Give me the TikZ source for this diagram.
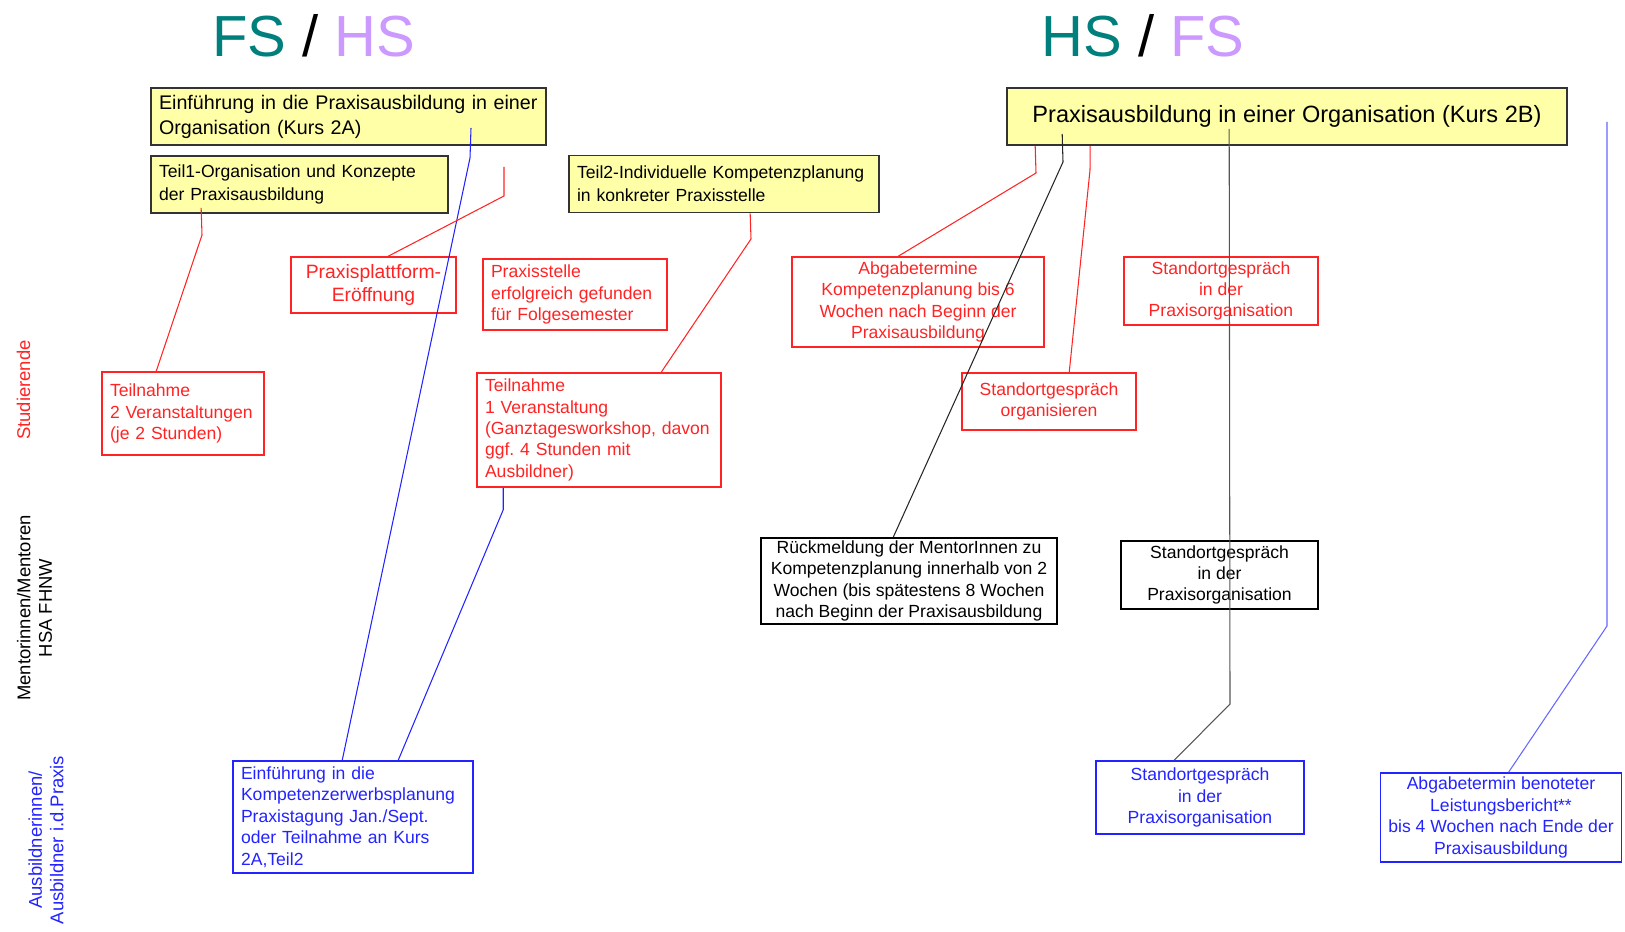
\documentclass[tikz,border=0pt]{standalone}
\usepackage{fontspec}
\setmainfont{Liberation Sans}
\usetikzlibrary{calc}
\definecolor{kursgelb}{RGB}{255,255,168}
\definecolor{studrot}{RGB}{255,35,35}
\definecolor{ausbblau}{RGB}{35,35,255}
\definecolor{fsgruen}{RGB}{0,128,124}
\definecolor{hslila}{RGB}{204,153,255}
\definecolor{linkgrau}{RGB}{85,85,85}
\frenchspacing

\begin{document}
\begin{tikzpicture}[x=0.02cm, y=-0.02cm,
  every node/.style={font=\fontsize{10}{12.2}\selectfont, inner xsep=0.16cm, inner ysep=0pt},
  kurs/.style={draw=black!80, fill=kursgelb, line width=1pt, align=left, minimum height=1.14cm, font=\fontsize{10}{13}\selectfont},
  studbox/.style={draw=studrot, text=studrot, line width=0.9pt},
  mentbox/.style={draw=black, line width=0.9pt},
  ausbbox/.style={draw=ausbblau, text=ausbblau, line width=0.9pt},
  studlink/.style={studrot, line width=0.6pt},
  mentlink/.style={black!85, line width=0.6pt},
  ausblink/.style={ausbblau, line width=0.6pt},
  graulink/.style={linkgrau, line width=0.6pt},
  seite/.style={rotate=90, align=center, font=\fontsize{10.5}{12.3}\selectfont}]
\useasboundingbox (0,0) rectangle (1625,932);

% Semester
\node[anchor=base, font=\fontsize{33}{33}\selectfont] (titelFS) at (314,57) {\textcolor{fsgruen}{FS} / \textcolor{hslila}{HS}};
\node[anchor=base, font=\fontsize{33}{33}\selectfont] (titelHS) at (1143,57) {\textcolor{fsgruen}{HS} / \textcolor{hslila}{FS}};

% Rollen
\node[seite, text=studrot] (studierende) at (23.5,390) {Studierende};
\node[seite] (mentoren) at (34.5,608) {Mentorinnen/Mentoren\\HSA FHNW};
\node[seite, text=ausbblau] (ausbildner) at (46,840) {Ausbildnerinnen/\\Ausbildner i.d.Praxis};

% Kurse
\node[kurs, text width=7.58cm, font=\fontsize{11.2}{14.2}\selectfont] (kursA) at (348.5,116.5) {Einführung in die Praxisausbildung in einer\\Organisation (Kurs 2A)};
\node[kurs, text width=5.62cm] (teil1) at (299.5,184.5) {Teil1-Organisation und Konzepte\\der Praxisausbildung};
\node[kurs, text width=5.88cm] (teil2) at (724,184) {Teil2-Individuelle Kompetenzplanung\\in konkreter Praxisstelle};
\node[kurs, align=center, minimum width=11.2cm, font=\fontsize{13.4}{16}\selectfont] (kursB) at (1287,116.5) {Praxisausbildung in einer Organisation (Kurs 2B)};

% Studierende
\node[studbox, align=center, minimum width=3.3cm, minimum height=1.12cm, font=\fontsize{11}{13}\selectfont] (plattform) at (373.5,285) {Praxisplattform-\\Eröffnung};
\node[studbox, align=left, text width=3.36cm, minimum height=1.42cm] (praxisstelle) at (575,294.5) {Praxisstelle\\erfolgreich gefunden\\für Folgesemester};
\node[studbox, align=left, text width=2.92cm, minimum height=1.66cm] (teiln2) at (183,413.5) {Teilnahme\\2 Veranstaltungen\\(je 2 Stunden)};
\node[studbox, align=left, text width=4.56cm, minimum height=2.28cm] (teiln1) at (599,430) {Teilnahme\\1 Veranstaltung\\(Ganztagesworkshop, davon\\ggf. 4 Stunden mit\\Ausbildner)};
\node[studbox, align=center, minimum width=5.04cm, minimum height=1.8cm] (abgabe) at (918,302) {Abgabetermine\\Kompetenzplanung bis 6\\Wochen nach Beginn der\\Praxisausbildung};
\node[studbox, align=center, minimum width=3.88cm, minimum height=1.36cm] (standRot) at (1221,291) {Standortgespräch\\in der\\Praxisorganisation};
\node[studbox, align=center, minimum width=3.48cm, minimum height=1.14cm] (standOrg) at (1049,401.5) {Standortgespräch\\organisieren};

% Mentorinnen
\node[mentbox, align=center, minimum width=5.92cm, minimum height=1.72cm] (rueck) at (909,581) {Rückmeldung der MentorInnen zu\\Kompetenzplanung innerhalb von 2\\Wochen (bis spätestens 8 Wochen\\nach Beginn der Praxisausbildung};
\node[mentbox, align=center, minimum width=3.94cm, minimum height=1.36cm] (standSchw) at (1219.5,575) {Standortgespräch\\in der\\Praxisorganisation};

% Ausbildner
\node[ausbbox, align=left, text width=4.48cm, minimum height=2.24cm] (kompetenz) at (353,817) {Einführung in die\\Kompetenzerwerbsplanung\\Praxistagung Jan./Sept.\\oder Teilnahme an Kurs\\2A,Teil2};
\node[ausbbox, align=center, minimum width=4.16cm, minimum height=1.46cm] (standBlau) at (1200,797.5) {Standortgespräch\\in der\\Praxisorganisation};
\node[ausbbox, align=center, minimum width=4.8cm, minimum height=1.78cm] (leistung) at (1501,817.5) {Abgabetermin benoteter\\Leistungsbericht**\\bis 4 Wochen nach Ende der\\Praxisausbildung};

% Verbindungen
\coordinate (blauStart) at (471,128);
\coordinate (rotFrei) at (504,167);
\coordinate (blauFrei) at (1607,122);
\draw[ausblink] (blauStart) -- (470,158) -- ($(kompetenz.north west)+(110,0)$);
\draw[ausblink] ($(teiln1.south west)+(27,0)$) -- ++(0,22) -- ($(kompetenz.north west)+(166,0)$);
\draw[studlink] ($(teil1.south west)+(51,-6)$) -- (202,235) -- ($(teiln2.north west)+(55,0)$);
\draw[studlink] (rotFrei) -- (504,196) -- ($(plattform.north west)+(98,0)$);
\draw[studlink] ($(teil2.south west)+(182,0)$) -- (751,239) -- ($(teiln1.north west)+(185,0)$);
\draw[studlink] ($(kursB.south west)+(29,0)$) -- (1036,173) -- ($(abgabe.north west)+(107,0)$);
\draw[mentlink] ($(kursB.south west)+(56,-12)$) -- (1063,162) -- ($(rueck.north west)+(133,0)$);
\draw[studlink] ($(kursB.south west)+(84,0)$) -- (1090,170) -- ($(standOrg.north west)+(108,0)$);
\draw[graulink] ($(kursB.south west)+(223,-17)$) -- (1230,704) -- ($(standBlau.north west)+(79,0)$);
\draw[ausblink, ausbblau!70] (blauFrei) -- (1607,626) -- ($(leistung.north west)+(129,0)$);
\end{tikzpicture}
\end{document}
